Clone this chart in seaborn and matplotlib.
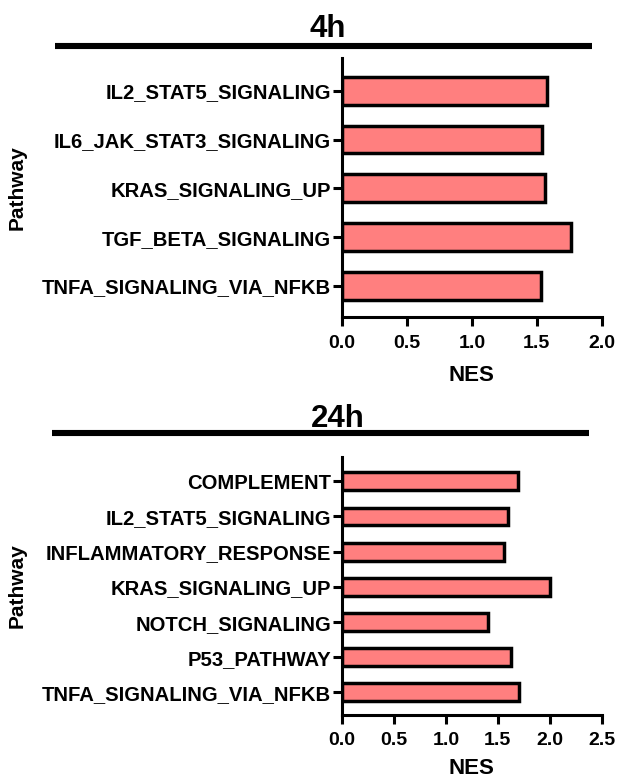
import matplotlib
matplotlib.use("Agg")
import matplotlib.pyplot as plt
from matplotlib.lines import Line2D
import seaborn as sns
import pandas as pd

# Enriched hallmark pathways at 4h
pathways_4h = [
    "IL2_STAT5_SIGNALING",
    "IL6_JAK_STAT3_SIGNALING",
    "KRAS_SIGNALING_UP",
    "TGF_BETA_SIGNALING",
    "TNFA_SIGNALING_VIA_NFKB",
]
nes_4h = [1.58, 1.54, 1.56, 1.76, 1.53]

# Enriched hallmark pathways at 24h
pathways_24h = [
    "COMPLEMENT",
    "IL2_STAT5_SIGNALING",
    "INFLAMMATORY_RESPONSE",
    "KRAS_SIGNALING_UP",
    "NOTCH_SIGNALING",
    "P53_PATHWAY",
    "TNFA_SIGNALING_VIA_NFKB",
]
nes_24h = [1.69, 1.60, 1.56, 2.00, 1.41, 1.63, 1.70]

x_ticks_4h = [0.0, 0.5, 1.0, 1.5, 2.0]
x_ticks_24h = [0.0, 0.5, 1.0, 1.5, 2.0, 2.5]

sns.set_style("ticks")
plt.rcParams["font.family"] = ["Liberation Sans", "DejaVu Sans"]
plt.rcParams["font.weight"] = "bold"
for key in ("text.color", "axes.labelcolor", "xtick.color", "ytick.color",
            "axes.edgecolor", "xtick.labelcolor", "ytick.labelcolor"):
    plt.rcParams[key] = "black"

BAR = "#FF7F7F"
W, H = 618, 782
fig = plt.figure(figsize=(W / 100, H / 100), dpi=100)


def px_axes(left, top, right, bottom):
    return fig.add_axes([left / W, 1 - bottom / H, (right - left) / W, (bottom - top) / H])


def draw_panel(ax, names, values, ticks, bar_width, ylim, title, title_x, title_base,
               line_x0, line_x1, line_y, nes_y):
    df = pd.DataFrame({"Pathway": names, "NES": values})
    sns.barplot(data=df, x="NES", y="Pathway", orient="h", color=BAR, saturation=1,
                edgecolor="black", linewidth=2.5, width=bar_width, ax=ax)
    ax.set_xlim(ticks[0], ticks[-1])
    ax.set_ylim(*ylim)
    ax.set_xticks(ticks)
    ax.set_xticklabels([f"{t:.1f}" for t in ticks])
    for s in ("top", "right"):
        ax.spines[s].set_visible(False)
    for s in ("left", "bottom"):
        ax.spines[s].set_linewidth(2.2)
        ax.spines[s].set_color("black")
    ax.tick_params(axis="both", width=2.2, length=6.5, color="black", labelcolor="black")
    ax.tick_params(axis="y", pad=1.5, labelsize=14.6)
    ax.tick_params(axis="x", pad=6, labelsize=14)
    for lab in ax.get_xticklabels() + ax.get_yticklabels():
        lab.set_fontweight("bold")
    ax.set_xlabel("NES", fontsize=16, fontweight="bold", color="black")
    ax.set_ylabel("Pathway", fontsize=15, fontweight="bold", color="black")
    ax.yaxis.set_label_coords(-1.213, 0.5)
    ax.xaxis.set_label_coords(0.5, nes_y)
    fig.text(title_x / W, 1 - title_base / H, title, ha="center", va="baseline",
             fontsize=22.5, fontweight="bold", color="black")
    fig.add_artist(Line2D([line_x0 / W, line_x1 / W], [1 - line_y / H] * 2,
                          transform=fig.transFigure, color="black", lw=4.4,
                          solid_capstyle="butt"))


ax1 = px_axes(342, 58, 601.7, 317.3)
draw_panel(ax1, pathways_4h, nes_4h, x_ticks_4h, 0.57, (4.64, -0.67), "4h",
           327.5, 37, 55, 592, 46, -0.184)

ax2 = px_axes(342, 457, 601.7, 715)
draw_panel(ax2, pathways_24h, nes_24h, x_ticks_24h, 0.51, (6.64, -0.69), "24h",
           337.5, 427, 52, 589, 433, -0.167)

fig.savefig("out.png", dpi=100)
